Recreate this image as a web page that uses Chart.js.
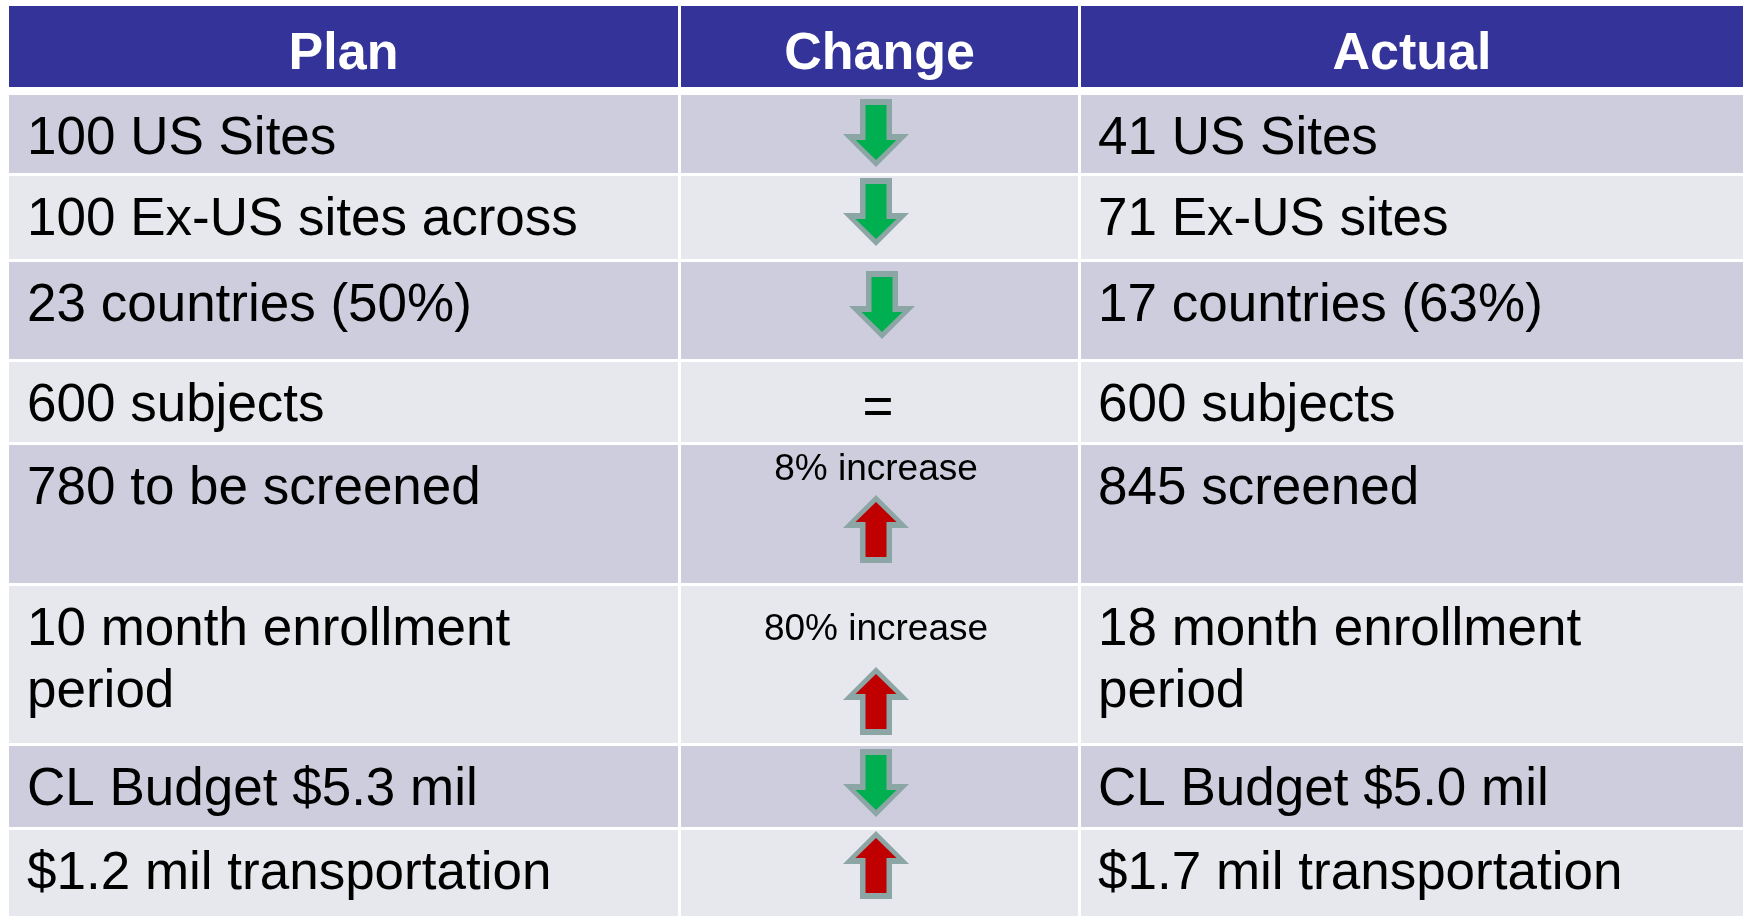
<!DOCTYPE html>
<html>
<head>
<meta charset="utf-8">
<script src="https://cdn.jsdelivr.net/npm/chart.js@4.4.1/dist/chart.umd.min.js"></script>
<style>
  html, body { margin: 0; padding: 0; background: #ffffff; }
  #wrap { width: 1743px; height: 916px; }
</style>
</head>
<body>
<div id="wrap"><canvas id="tableChart" width="1743" height="916"></canvas></div>
<script>
// table content
const headers = ["Plan", "Change", "Actual"];
const planText = [
    ["100 US Sites"],
    ["100 Ex-US sites across"],
    ["23 countries (50%)"],
    ["600 subjects"],
    ["780 to be screened"],
    ["10 month enrollment", "period"],
    ["CL Budget $5.3 mil"],
    ["$1.2 mil transportation"]
];
const actualText = [
    ["41 US Sites"],
    ["71 Ex-US sites"],
    ["17 countries (63%)"],
    ["600 subjects"],
    ["845 screened"],
    ["18 month enrollment", "period"],
    ["CL Budget $5.0 mil"],
    ["$1.7 mil transportation"]
];
const changeDir = ["down", "down", "down", "same", "up", "up", "down", "up"];
const changeNote = ["", "", "", "", "8% increase", "80% increase", "", ""];

// layout (design units, mapped through the chart scales)
const colEdges = [[9, 678], [681, 1078], [1081, 1743]];
const headerEdge = [6, 87];
const rowEdges = [[95, 173], [176, 259], [262, 359], [362, 442], [445, 583], [586, 743], [746, 827], [830, 916]];
const arrowX = [876, 876, 882, 876, 876, 876, 876, 876];
const arrowTop = [99, 178, 271, 0, 495, 667, 749, 831];
const noteTop = [0, 0, 0, 0, 35, 54, 0, 0];

const FONT = "'Liberation Sans', Arial, sans-serif";

const tablePlugin = {
    id: "tablePlugin",
    beforeDraw: function (chart) {
        const ctx = chart.ctx;
        const xs = chart.scales.x;
        const ys = chart.scales.y;
        const px = function (v) { return xs.getPixelForValue(v); };
        const py = function (v) { return ys.getPixelForValue(v); };

        ctx.save();
        ctx.fillStyle = "#ffffff";
        ctx.fillRect(0, 0, chart.width, chart.height);

        // header cells
        colEdges.forEach(function (c, i) {
            ctx.fillStyle = "#343399";
            ctx.fillRect(px(c[0]), py(headerEdge[0]), px(c[1]) - px(c[0]), py(headerEdge[1]) - py(headerEdge[0]));
            ctx.fillStyle = "#ffffff";
            ctx.font = "bold 52px " + FONT;
            ctx.textAlign = "center";
            ctx.textBaseline = "alphabetic";
            ctx.fillText(headers[i], px((c[0] + c[1]) / 2), py(69));
        });

        // body cells
        rowEdges.forEach(function (r, i) {
            const bg = i % 2 === 0 ? "#cdcddd" : "#e7e8ee";
            colEdges.forEach(function (c) {
                ctx.fillStyle = bg;
                ctx.fillRect(px(c[0]), py(r[0]), px(c[1]) - px(c[0]), py(r[1]) - py(r[0]));
            });

            ctx.fillStyle = "#000000";
            ctx.font = "53px " + FONT;
            ctx.textAlign = "left";
            planText[i].forEach(function (line, k) {
                ctx.fillText(line, px(colEdges[0][0] + 18), py(r[0] + 59 + k * 62));
            });
            actualText[i].forEach(function (line, k) {
                ctx.fillText(line, px(colEdges[2][0] + 17), py(r[0] + 59 + k * 62));
            });

            if (changeNote[i]) {
                ctx.font = "37px " + FONT;
                ctx.textAlign = "center";
                ctx.fillText(changeNote[i], px(876), py(r[0] + noteTop[i]));
            }

            if (changeDir[i] === "same") {
                ctx.font = "53px " + FONT;
                ctx.textAlign = "center";
                ctx.fillText("=", px(878), py(r[0] + 62));
            } else {
                drawArrow(ctx, px, py, arrowX[i], arrowTop[i], changeDir[i]);
            }
        });
        ctx.restore();
    }
};

function arrowPoints(cx, top, dir, shaftHalf, headHalf, shaftTop, headStart, tip) {
    // points for a down arrow; flipped for up
    var pts = [
        [cx - shaftHalf, shaftTop], [cx + shaftHalf, shaftTop], [cx + shaftHalf, headStart],
        [cx + headHalf, headStart], [cx, tip], [cx - headHalf, headStart], [cx - shaftHalf, headStart]
    ];
    return pts.map(function (p) {
        var dy = dir === "down" ? p[1] : 68 - p[1];
        return [p[0], top + dy];
    });
}

function drawArrow(ctx, px, py, cx, top, dir) {
    var outer = arrowPoints(cx, top, dir, 16, 33, 0, 35, 68);
    var inner = arrowPoints(cx, top, dir, 10.5, 20.5, 6, 41, 61);
    [[outer, "#8ca5a5"], [inner, dir === "down" ? "#00b050" : "#c00000"]].forEach(function (shape) {
        ctx.beginPath();
        shape[0].forEach(function (p, k) {
            if (k === 0) ctx.moveTo(px(p[0]), py(p[1]));
            else ctx.lineTo(px(p[0]), py(p[1]));
        });
        ctx.closePath();
        ctx.fillStyle = shape[1];
        ctx.fill();
    });
}

new Chart(document.getElementById("tableChart").getContext("2d"), {
    type: "scatter",
    data: { datasets: [{ data: [], pointRadius: 0 }] },
    options: {
        responsive: false,
        animation: false,
        layout: { padding: 0 },
        plugins: { legend: { display: false }, tooltip: { enabled: false } },
        scales: {
            x: { type: "linear", min: 0, max: 1743, display: false },
            y: { type: "linear", min: 0, max: 916, reverse: true, display: false }
        }
    },
    plugins: [tablePlugin]
});
</script>
</body>
</html>
